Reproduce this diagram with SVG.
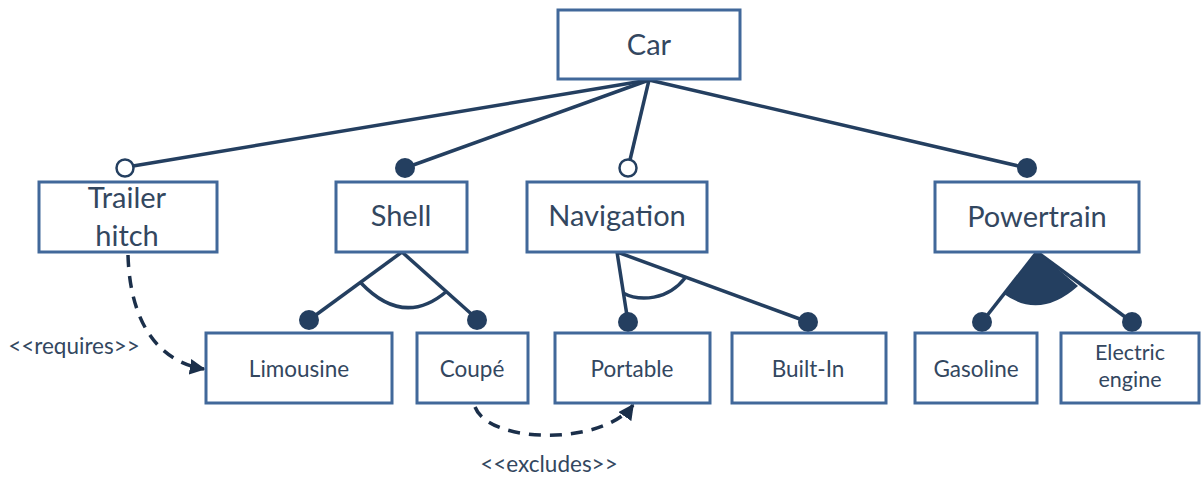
<svg xmlns="http://www.w3.org/2000/svg" width="1201" height="477" viewBox="0 0 1201 477">
<style>
.box{fill:#fff;stroke:#41689a;stroke-width:3}
.t{font-family:Lato,"Open Sans",sans-serif;fill:#33475f;text-anchor:middle}
.big{font-size:29px}
.small{font-size:22.5px}
.lbl{font-family:Lato,"Open Sans",sans-serif;fill:#33475f;font-size:22.5px;text-anchor:middle}
.ln{stroke:#243f60;stroke-width:3.5;fill:none}
.open{fill:#fff;stroke:#243f60;stroke-width:2.5}
.dot{fill:#243f60}
.dash{stroke:#1b2f4a;stroke-width:3.5;fill:none;stroke-dasharray:12 9}
</style>
<defs>
<marker id="arr" viewBox="0 0 10 10" refX="9" refY="5" markerWidth="4.5" markerHeight="4.5" orient="auto" markerUnits="strokeWidth">
<path d="M0,0 L10,5 L0,10 z" fill="#1b2f4a"/>
</marker>
</defs>
<g id="connectors">
<line class="ln" x1="649" y1="80" x2="133" y2="166"/>
<line class="ln" x1="649" y1="80" x2="405" y2="168"/>
<line class="ln" x1="649" y1="80" x2="630" y2="160"/>
<line class="ln" x1="649" y1="80" x2="1027" y2="168"/>
<line class="ln" x1="402" y1="252" x2="309" y2="320"/>
<line class="ln" x1="402" y1="252" x2="477" y2="319"/>
<path class="ln" d="M361 283 Q 404 328 447 291"/>
<line class="ln" x1="617" y1="252" x2="628" y2="322"/>
<line class="ln" x1="617" y1="252" x2="808" y2="322"/>
<path class="ln" d="M623 293 C 640 302, 668 300, 685 278"/>
<line class="ln" x1="1037" y1="252" x2="982" y2="322"/>
<line class="ln" x1="1037" y1="252" x2="1132" y2="322"/>
<path class="dot" d="M1037 251 L1004 294 Q 1040 320 1078 286 Z"/>
<circle class="open" cx="125" cy="168" r="8.5"/>
<circle class="dot" cx="405" cy="168" r="10"/>
<circle class="open" cx="628" cy="168" r="8.5"/>
<circle class="dot" cx="1027" cy="168" r="10"/>
<circle class="dot" cx="309" cy="320" r="10"/>
<circle class="dot" cx="477" cy="320" r="10"/>
<circle class="dot" cx="628" cy="322" r="10"/>
<circle class="dot" cx="808" cy="322" r="10"/>
<circle class="dot" cx="982" cy="322" r="10"/>
<circle class="dot" cx="1132" cy="322" r="10"/>
<path class="dash" d="M128 255 C 130 325, 160 362, 204 369" marker-end="url(#arr)"/>
<path class="dash" d="M475 407 C 490 445, 605 445, 633 405" marker-end="url(#arr)"/>
<text class="lbl" x="74" y="354">&lt;&lt;requires&gt;&gt;</text>
<text class="lbl" x="549" y="472">&lt;&lt;excludes&gt;&gt;</text>
</g>
<g id="car"><rect class="box" x="558" y="10" width="182" height="69"/><text class="t big" x="649" y="55">Car</text></g>
<g id="trailer"><rect class="box" x="39" y="182" width="178" height="70"/><text class="t big" x="127" y="208">Trailer</text><text class="t big" x="127" y="246">hitch</text></g>
<g id="shell"><rect class="box" x="336" y="182" width="131" height="70"/><text class="t big" x="401" y="226">Shell</text></g>
<g id="navigation"><rect class="box" x="527" y="182" width="180" height="70"/><text class="t big" x="617" y="226">Navigation</text></g>
<g id="powertrain"><rect class="box" x="935" y="182" width="204" height="70"/><text class="t big" x="1037" y="227">Powertrain</text></g>
<g id="limousine"><rect class="box" x="206" y="333" width="186" height="70"/><text class="t small" x="299" y="377">Limousine</text></g>
<g id="coupe"><rect class="box" x="417" y="333" width="111" height="70"/><text class="t small" x="472" y="377">Coupé</text></g>
<g id="portable"><rect class="box" x="555" y="333" width="155" height="70"/><text class="t small" x="632" y="377">Portable</text></g>
<g id="builtin"><rect class="box" x="732" y="333" width="154" height="70"/><text class="t small" x="808" y="377">Built-In</text></g>
<g id="gasoline"><rect class="box" x="915" y="333" width="122" height="70"/><text class="t small" x="976" y="377">Gasoline</text></g>
<g id="electric"><rect class="box" x="1061" y="333" width="138" height="70"/><text class="t" style="font-size:21.5px" x="1130" y="360">Electric</text><text class="t" style="font-size:21.5px" x="1130" y="387">engine</text></g>
</svg>
